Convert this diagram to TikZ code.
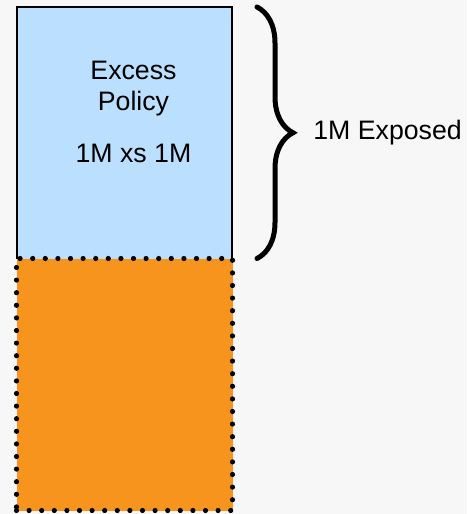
\documentclass[tikz,border=0pt]{standalone}
\usepackage{fontspec}
\setmainfont{Liberation Sans}
\usetikzlibrary{positioning,decorations.pathreplacing}
\definecolor{bggray}{HTML}{F7F7F7}
\definecolor{policyblue}{HTML}{BBE0FF}
\definecolor{layerorange}{HTML}{F7941E}

\begin{document}
\begin{tikzpicture}[x=0.5pt,y=-0.5pt,font=\fontsize{13.35}{15.5}\selectfont]
  \tikzstyle{layer}=[rectangle,inner sep=0pt,outer sep=0pt]
  \tikzstyle{dotted border}=[draw=black,line width=2.6pt,dash pattern=on 0pt off 6.3pt,line cap=round]

  % page background
  \fill[bggray] (0,0) rectangle (467,514);

  % excess layer, open at the bottom
  \node[layer,fill=policyblue,minimum width=107.5pt,minimum height=125.75pt] (excess) at (124.5,132.75) {};
  \draw[line width=1pt] (excess.south west) |- (excess.north east) -- (excess.south east);

  % underlying layer
  \node[layer,fill=layerorange,dotted border,minimum width=108pt,minimum height=126pt,below=0pt of excess] (primary) {};

  \node[align=center,inner sep=0pt] (policy) at (133.5,112) {Excess\\Policy\\[10.5pt]1M xs 1M};

  \draw[decorate,decoration={brace,amplitude=18pt},line width=2.5pt,line cap=round]
    ([xshift=12.5pt]excess.north east) -- ([xshift=12.5pt]excess.south east);
  \node[anchor=base west,inner sep=0pt] (exposed) at (313,139) {1M Exposed};
\end{tikzpicture}
\end{document}
